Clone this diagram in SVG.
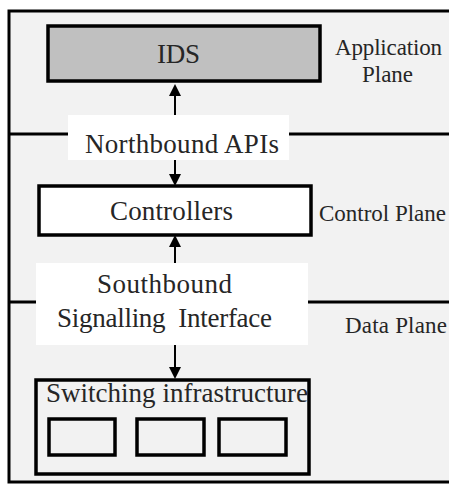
<svg xmlns="http://www.w3.org/2000/svg" width="449" height="484" viewBox="0 0 449 484">
<style>
text{font-family:"Liberation Serif","Times New Roman",serif;fill:#262626}
.box{stroke:#000;stroke-width:3.5}
.lbl{font-size:23px}
.big{font-size:27px}
.conn{stroke:#000;stroke-width:2;fill:none}
</style>
<defs>
<marker id="ah" markerWidth="6" markerHeight="6" refX="5" refY="3" orient="auto" markerUnits="strokeWidth">
<path d="M0,0 L6,3 L0,6 z" fill="#000"/>
</marker>
</defs>
<rect x="0" y="0" width="449" height="484" fill="#fff"/>
<g id="frame">
<rect x="9" y="11" width="442" height="471" fill="#f2f2f2" stroke="#000" stroke-width="3"/>
<line x1="9" y1="134" x2="449" y2="134" stroke="#000" stroke-width="3"/>
<line x1="9" y1="302" x2="449" y2="302" stroke="#000" stroke-width="3"/>
</g>
<g id="plane-labels">
<text class="lbl" x="335" y="55" textLength="107">Application</text>
<text class="lbl" x="362" y="82" textLength="51">Plane</text>
<text class="lbl" x="319" y="221" textLength="127">Control Plane</text>
<text class="lbl" x="345" y="333" textLength="102">Data Plane</text>
</g>
<g id="ids">
<rect class="box" x="48" y="26" width="272" height="55" fill="#c0c0c0"/>
<text class="big" x="157" y="63" textLength="43">IDS</text>
</g>
<g id="northbound">
<rect x="68" y="115" width="221" height="45" fill="#fff"/>
<text class="big" x="85" y="153" textLength="194">Northbound APIs</text>
</g>
<g id="controllers">
<rect class="box" x="39" y="186" width="272" height="49" fill="#fff"/>
<text class="big" x="110" y="220" textLength="123">Controllers</text>
</g>
<g id="southbound">
<rect x="36" y="263" width="272" height="82" fill="#fff"/>
<text class="big" x="97" y="293" textLength="135">Southbound</text>
<text class="big" x="57" y="327" textLength="215" xml:space="preserve">Signalling  Interface</text>
</g>
<g id="switching">
<rect class="box" x="36" y="380" width="273" height="94" fill="#f2f2f2"/>
<text class="big" x="46" y="402" textLength="262">Switching infrastructure</text>
<rect class="box" x="49" y="419" width="66" height="36" fill="#f2f2f2"/>
<rect class="box" x="137" y="419" width="67" height="36" fill="#f2f2f2"/>
<rect class="box" x="219" y="419" width="67" height="36" fill="#f2f2f2"/>
</g>
<g id="connectors">
<line class="conn" x1="175" y1="115" x2="175" y2="86" marker-end="url(#ah)"/>
<line class="conn" x1="175" y1="160" x2="175" y2="184" marker-end="url(#ah)"/>
<line class="conn" x1="175" y1="263" x2="175" y2="237" marker-end="url(#ah)"/>
<line class="conn" x1="175" y1="345" x2="175" y2="377" marker-end="url(#ah)"/>
</g>
</svg>
